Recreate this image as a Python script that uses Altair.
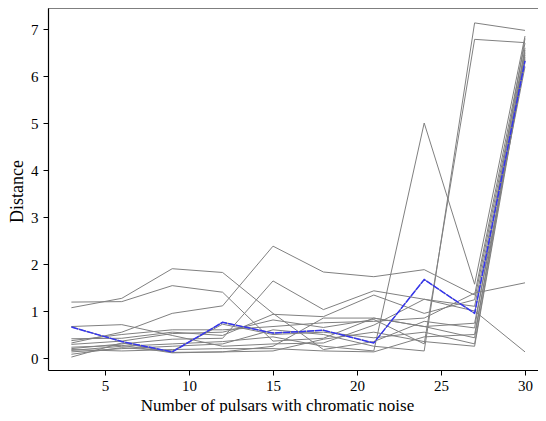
import altair as alt
import pandas as pd

x_vals = [3, 6, 9, 12, 15, 18, 21, 24, 27, 30]

# grey runs
g01 = [1.07, 1.27, 1.90, 1.82, 0.95, 0.18, 0.35, 0.78, 0.64, 6.80]
g02 = [1.19, 1.20, 1.54, 1.40, 0.36, 0.42, 0.85, 0.67, 0.43, 6.60]
g03 = [0.32, 0.55, 0.95, 1.11, 2.38, 1.83, 1.73, 1.88, 1.34, 6.70]
g04 = [0.20, 0.30, 0.40, 0.42, 1.64, 1.03, 1.43, 1.25, 1.10, 6.45]
g05 = [0.16, 0.25, 0.30, 0.35, 0.45, 0.25, 0.15, 5.00, 1.57, 6.85]
g06 = [0.13, 0.20, 0.25, 0.30, 0.60, 0.50, 0.25, 0.15, 7.13, 6.97]
g07 = [0.29, 0.36, 0.52, 0.55, 0.81, 0.65, 0.82, 0.30, 6.78, 6.71]
g08 = [0.41, 0.42, 0.55, 0.48, 0.93, 0.88, 1.34, 0.95, 1.24, 6.55]
g09 = [0.37, 0.50, 0.60, 0.60, 0.67, 0.75, 0.78, 0.85, 1.38, 1.60]
g10 = [0.67, 0.71, 0.48, 0.25, 0.30, 0.32, 0.70, 1.25, 1.00, 0.13]
g11 = [0.23, 0.27, 0.11, 0.13, 0.15, 0.40, 0.55, 0.35, 0.25, 6.40]
g12 = [0.18, 0.15, 0.18, 0.20, 0.20, 0.15, 0.13, 0.45, 0.50, 6.35]
g13 = [0.08, 0.22, 0.15, 0.72, 0.50, 0.55, 0.43, 0.55, 0.30, 6.50]
g14 = [0.02, 0.32, 0.12, 0.13, 0.25, 0.85, 0.85, 0.67, 0.74, 6.20]

# highlighted run
blue = [0.66, 0.35, 0.13, 0.76, 0.53, 0.59, 0.32, 1.67, 0.95, 6.32]

x_ticks = [5, 10, 15, 20, 25, 30]
y_ticks = [0, 1, 2, 3, 4, 5, 6, 7]

grey_runs = [g01, g02, g03, g04, g05, g06, g07, g08, g09, g10, g11, g12, g13, g14, blue]
rows = []
for i, run in enumerate(grey_runs):
    for xv, yv in zip(x_vals, run):
        rows.append({"run": i, "n": xv, "d": yv})
grey_df = pd.DataFrame(rows)
blue_df = pd.DataFrame({"n": x_vals, "d": blue})

W, H = 490, 362
FONT = "Liberation Serif"
xscale = alt.Scale(domain=[1.607, 1.607 + W / 16.8], nice=False, zero=False)
yscale = alt.Scale(domain=[-0.255, 7.447], nice=False, zero=False)

common = dict(
    grid=False, domainColor="black", domainWidth=1.2,
    tickColor="black", tickWidth=1, tickSize=5,
    labelFont=FONT, labelFontSize=15, labelColor="black",
    titleFont=FONT, titleFontWeight="normal", titleColor="black",
)

xaxis = alt.Axis(values=x_ticks, title="Number of pulsars with chromatic noise",
                 titleX=229, titleY=40, titleBaseline="alphabetic", titleFontSize=17,
                 titleAnchor="middle", titleAlign="center", labelPadding=3, **common)
yaxis = alt.Axis(values=y_ticks, title="Distance", titleAngle=-90, titleFontSize=18,
                 titleX=-31, titleY=183, titleBaseline="middle",
                 titleAlign="center", labelPadding=5, **common)

grey = alt.Chart(grey_df).mark_line(color="#808080", strokeWidth=1).encode(
    x=alt.X("n:Q", scale=xscale, axis=xaxis),
    y=alt.Y("d:Q", scale=yscale, axis=yaxis),
    detail="run:N",
)

bl = alt.Chart(blue_df).mark_line(color="#3535ee", strokeWidth=1.5, strokeDash=[7, 1]).encode(
    x=alt.X("n:Q", scale=xscale),
    y=alt.Y("d:Q", scale=yscale),
)

top = alt.Chart(pd.DataFrame({"a": [0]})).mark_rule(color="black", strokeWidth=1.2).encode(
    x=alt.value(0), x2=alt.value(W), y=alt.value(0)
)

chart = alt.layer(grey, bl, top).properties(
    width=W, height=H,
    padding={"left": 40, "top": 0, "right": 0, "bottom": 43},
    autosize=alt.AutoSizeParams(type="none"),
).configure_view(stroke=None)

chart.save("out.html", embed_options={"renderer": "svg", "actions": False})
